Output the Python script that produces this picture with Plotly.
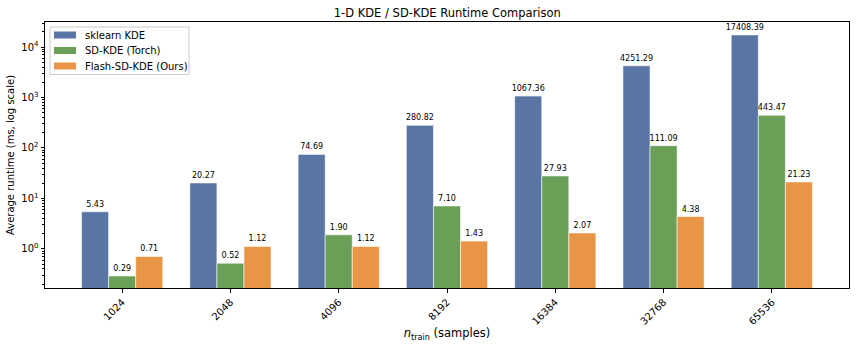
import plotly.graph_objects as go

categories = ["1024", "2048", "4096", "8192", "16384", "32768", "65536"]
sklearn_kde = [5.43, 20.27, 74.69, 280.82, 1067.36, 4251.29, 17408.39]
sd_kde_torch = [0.29, 0.52, 1.90, 7.10, 27.93, 111.09, 443.47]
flash_sd_kde = [0.71, 1.12, 1.12, 1.43, 2.07, 4.38, 21.23]

series = [
    ("sklearn KDE", sklearn_kde, "rgb(88,117,164)"),
    ("SD-KDE (Torch)", sd_kde_torch, "rgb(106,159,88)"),
    ("Flash-SD-KDE (Ours)", flash_sd_kde, "rgb(232,150,69)"),
]

FONT = "DejaVu Sans, Liberation Sans, sans-serif"
W, H = 856, 349
ML, MR, MT, MB = 45, 7, 22, 61
PW, PH = W - ML - MR, H - MT - MB


def px_x(x):
    return (x - ML) / PW


def px_y(y):
    return 1 - (y - MT) / PH


fig = go.Figure()
for name, vals, color in series:
    fig.add_trace(go.Bar(
        x=categories, y=vals, name=name,
        marker=dict(color=color, line=dict(color="rgba(255,255,255,0.8)", width=0.7)),
        text=[f"{v:.2f}" for v in vals],
        textposition="outside",
        constraintext="none",
        cliponaxis=False,
        textfont=dict(size=8, color="black", family=FONT),
        showlegend=False,
    ))

# manual legend (compact, matplotlib-like)
shapes = [dict(type="rect", xref="paper", yref="paper",
               x0=px_x(50), x1=px_x(189), y0=px_y(74.5), y1=px_y(27),
               line=dict(color="rgb(204,204,204)", width=1),
               fillcolor="rgba(255,255,255,0.8)", layer="above")]
annotations = []
row_y = [35, 50.5, 66]
for (name, vals, color), yc in zip(series, row_y):
    shapes.append(dict(type="rect", xref="paper", yref="paper",
                       x0=px_x(54), x1=px_x(76), y0=px_y(yc + 3.5), y1=px_y(yc - 3.5),
                       line=dict(width=0), fillcolor=color, layer="above"))
    annotations.append(dict(xref="paper", yref="paper", x=px_x(83), y=px_y(yc),
                            xanchor="left", yanchor="middle", showarrow=False,
                            text=name, font=dict(size=10, color="black", family=FONT)))

fig.update_layout(
    width=W, height=H,
    margin=dict(l=ML, r=MR, t=MT, b=MB),
    paper_bgcolor="white", plot_bgcolor="white",
    font=dict(family=FONT, size=10, color="black"),
    barmode="group", bargap=0.25, bargroupgap=0,
    title=dict(text="1-D KDE / SD-KDE Runtime Comparison", x=0.5225, xanchor="center",
               y=0.962, yanchor="middle", font=dict(size=11.5)),
    showlegend=False,
    shapes=shapes,
    annotations=annotations,
)

fig.update_xaxes(
    type="category", range=[-0.7125, 6.7125],
    showline=True, linecolor="black", linewidth=1, mirror=True,
    ticks="outside", ticklen=3.5, tickcolor="black", tickangle=-45,
    showgrid=False,
    title=dict(text="<i>n</i><sub>train</sub> (samples)", font=dict(size=11.5), standoff=3),
)

fig.update_yaxes(
    type="log", range=[-0.775, 4.497],
    showline=True, linecolor="black", linewidth=1, mirror=True,
    ticks="outside", ticklen=3.5, tickcolor="black",
    tickvals=[1, 10, 100, 1000, 10000],
    ticktext=["10<sup>0</sup>", "10<sup>1</sup>", "10<sup>2</sup>", "10<sup>3</sup>", "10<sup>4</sup>"],
    minor=dict(ticks="outside", ticklen=2, tickcolor="black", dtick="D1", showgrid=False),
    showgrid=False,
    title=dict(text="Average runtime (ms, log scale)", font=dict(size=10), standoff=4),
)

fig.write_html("out.html")
